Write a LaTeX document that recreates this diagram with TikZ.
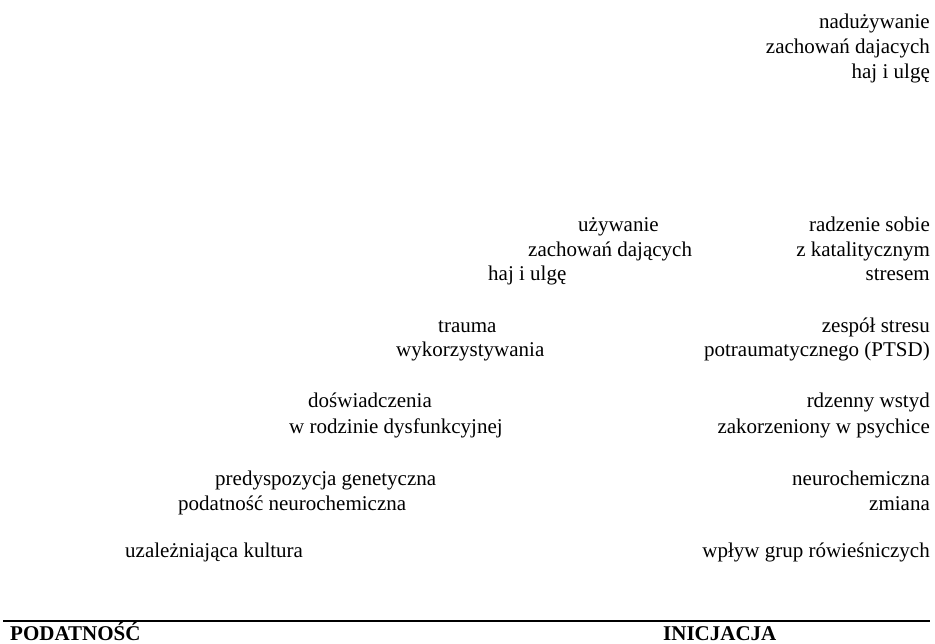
\documentclass[tikz,border=0pt]{standalone}
\usepackage{fontspec}
\setmainfont{Liberation Serif}
\begin{document}
\begin{tikzpicture}[x=1pt,y=-1pt,
  txt/.style={inner sep=0pt,font=\fontsize{21}{24.5}\selectfont},
  rt/.style={txt,anchor=base east},
  lt/.style={txt,anchor=base west},
  hd/.style={inner sep=0pt,anchor=base west,text depth=0pt,font=\fontsize{21}{24.5}\selectfont\bfseries}]
\useasboundingbox (0,0) rectangle (935,644);
% top right
\node[rt] (a1) at (930,29) {nadużywanie};
\node[rt] (a2) at (930,54) {zachowań dajacych};
\node[rt] (a3) at (930,79) {haj i ulgę};
% using
\node[lt] (b1) at (578,232) {używanie};
\node[lt] (b2) at (528,257) {zachowań dających};
\node[lt] (b3) at (488,281) {haj i ulgę};
\node[rt] (c1) at (930,232) {radzenie sobie};
\node[rt] (c2) at (930,257) {z katalitycznym};
\node[rt] (c3) at (930,281) {stresem};
% trauma
\node[lt] (d1) at (438,333) {trauma};
\node[lt] (d2) at (396,357) {wykorzystywania};
\node[rt] (e1) at (930,333) {zespół stresu};
\node[rt] (e2) at (930,357) {potraumatycznego (PTSD)};
% family
\node[lt] (f1) at (308,408) {doświadczenia};
\node[lt] (f2) at (289,433) {w rodzinie dysfunkcyjnej};
\node[rt] (g1) at (930,408) {rdzenny wstyd};
\node[rt] (g2) at (930,433) {zakorzeniony w psychice};
% genetic
\node[lt] (h1) at (215,485) {predyspozycja genetyczna};
\node[lt] (h2) at (178,510) {podatność neurochemiczna};
\node[rt] (i1) at (930,485) {neurochemiczna};
\node[rt] (i2) at (930,510) {zmiana};
% culture
\node[lt] (j1) at (125,557) {uzależniająca kultura};
\node[rt] (k1) at (930,557) {wpływ grup rówieśniczych};
% axis
\coordinate (L) at (3,621);
\coordinate (R) at (930,621);
\draw[line width=2pt] (L) -- (R);
\node[hd] (p1) at (10,640) {PODATNOŚĆ};
\node[hd] (p2) at (663,640) {INICJACJA};
\end{tikzpicture}
\end{document}
